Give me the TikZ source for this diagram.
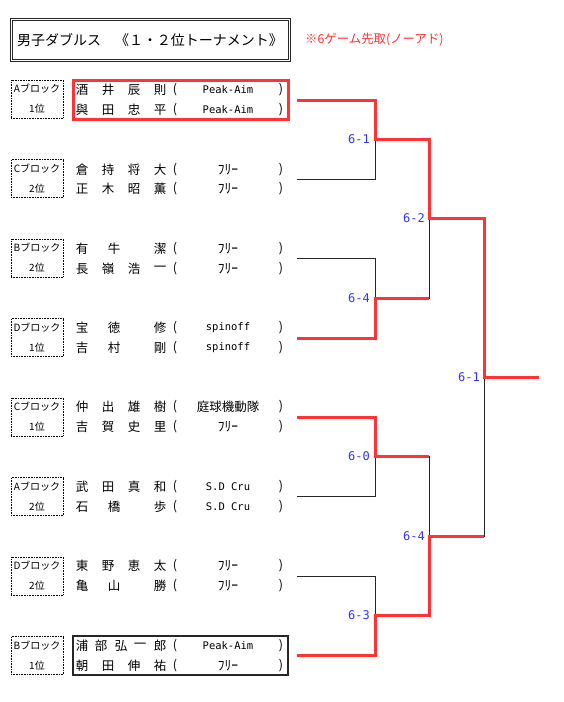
\documentclass[tikz,border=0pt]{standalone}
\usepackage{fontspec}
\setmainfont{Noto Sans CJK JP}
\newfontfamily\monof{DejaVu Sans Mono}
\usetikzlibrary{calc}
\definecolor{wred}{RGB}{255,51,51}
\definecolor{wblue}{RGB}{51,51,255}
\newcommand\player[4]{%
  \foreach \c/\x [count=\i] in {#3} {\node[txt] (n#1-\i) at (\x,#2) {\c};}
  \node[txt] (lp#1) at (175,#2) {(};
  \node[txt] (tm#1) at (228,#2) {#4};
  \node[txt] (rp#1) at (281,#2) {)};
}
\newcommand\pl{\monof\fontsize{10.5}{12}\selectfont}
\newcommand\fr{\fontsize{13.5}{14}\selectfont ﾌﾘｰ}
\begin{document}
\begin{tikzpicture}[x=1pt,y=-1pt,
  txt/.style={inner sep=0pt, font=\fontsize{12.5}{13}\selectfont},
  blk/.style={draw, densely dotted, line width=0.6pt, minimum width=52pt, minimum height=38pt, inner sep=0pt, align=center, font=\fontsize{10}{20}\selectfont},
  thin line/.style={draw=black!85, line width=0.8pt},
  win/.style={draw=wred, line width=3pt},
  score/.style={text=wblue, inner sep=0pt, anchor=east, font=\monof\fontsize{12}{13}\selectfont}]
\useasboundingbox (0,0) rectangle (564,702);
\fill[white] (0,0) rectangle (564,702);
% title
\node[draw=black!85, line width=0.7pt, minimum width=280pt, minimum height=43pt, inner sep=0pt, font=\fontsize{14}{16}\selectfont] (title) at (150,40) {男子ダブルス　《１・２位トーナメント》};
\draw[black!85, line width=0.7pt] ($(title.north west)+(2.2,2.2)$) rectangle ($(title.south east)+(-2.2,-2.2)$);
\node[inner sep=0pt, text=wred, anchor=west, font=\fontsize{12.4}{14}\selectfont] (note) at (305,40) {※6ゲーム先取(ノーアド)};
% block labels
\node[blk] (b1) at (37,99) {Aブロック\\1位};
\node[blk] (b2) at (37,178.5) {Cブロック\\2位};
\node[blk] (b3) at (37,258) {Bブロック\\2位};
\node[blk] (b4) at (37,337.5) {Dブロック\\1位};
\node[blk] (b5) at (37,417) {Cブロック\\1位};
\node[blk] (b6) at (37,496.5) {Aブロック\\2位};
\node[blk] (b7) at (37,576) {Dブロック\\2位};
\node[blk] (b8) at (37,655.5) {Bブロック\\1位};
% players
\player{1a}{90}{酒/82,井/108,辰/134,則/160}{\pl Peak-Aim}
\player{1b}{110}{與/82,田/108,忠/134,平/160}{\pl Peak-Aim}
\player{2a}{170}{倉/82,持/108,将/134,大/160}{\fr}
\player{2b}{189}{正/82,木/108,昭/134,薫/160}{\fr}
\player{3a}{249}{有/82,牛/114,潔/160}{\fr}
\player{3b}{269}{長/82,嶺/108,浩/134,一/160}{\fr}
\player{4a}{328}{宝/82,徳/114,修/160}{\pl spinoff}
\player{4b}{348}{吉/82,村/114,剛/160}{\pl spinoff}
\player{5a}{407}{仲/82,出/108,雄/134,樹/160}{庭球機動隊}
\player{5b}{427}{吉/82,賀/108,史/134,里/160}{\fr}
\player{6a}{487}{武/82,田/108,真/134,和/160}{\pl S.D Cru}
\player{6b}{507}{石/82,橋/114,歩/160}{\pl S.D Cru}
\player{7a}{566}{東/82,野/108,恵/134,太/160}{\fr}
\player{7b}{586}{亀/82,山/114,勝/160}{\fr}
\player{8a}{646}{浦/82,部/101,弘/121,一/140,郎/160}{\pl Peak-Aim}
\player{8b}{666}{朝/82,田/108,伸/134,祐/160}{\fr}
% highlight boxes
\node[draw=wred, line width=3pt, minimum width=215pt, minimum height=39pt, inner sep=0pt] (hb1) at (180.5,99.5) {};
\node[draw=black!85, line width=2pt, minimum width=215pt, minimum height=39pt, inner sep=0pt] (hb8) at (180.5,655.5) {};
% bracket coordinates
\foreach \k/\y in {1/100,2/179,3/258,4/338,5/417,6/496,7/576,8/655} {
  \coordinate (s\k) at (297,\y);
  \coordinate (c\k) at (375,\y);
}
\coordinate (j1) at (375,139); \coordinate (j2) at (375,298);
\coordinate (j3) at (375,456); \coordinate (j4) at (375,615);
\coordinate (d1) at (429,139); \coordinate (d2) at (429,298);
\coordinate (d3) at (429,456); \coordinate (d4) at (429,615);
\coordinate (k1) at (429,218); \coordinate (k2) at (429,536);
\coordinate (e1) at (484,218); \coordinate (e2) at (484,536);
\coordinate (f) at (484,377); \coordinate (fin) at (539,377);
% black bracket
\path[thin line] (s1) -- (c1) -- (c2) -- (s2);
\path[thin line] (s3) -- (c3) -- (c4) -- (s4);
\path[thin line] (s5) -- (c5) -- (c6) -- (s6);
\path[thin line] (s7) -- (c7) -- (c8) -- (s8);
\path[thin line] (j1) -- (d1) -- (d2) -- (j2);
\path[thin line] (j3) -- (d3) -- (d4) -- (j4);
\path[thin line] (k1) -- (e1) -- (e2) -- (k2);
% winners
\path[win] (s1) -- (c1) -- (j1) -- (d1) -- (k1) -- (e1) -- (f) -- (fin);
\path[win] (s4) -- (c4) -- (j2) -- (d2);
\path[win] (s5) -- (c5) -- (j3) -- (d3);
\path[win] (s8) -- (c8) -- (j4) -- (d4) -- (k2) -- (e2);
% scores
\node[score] (sc1) at (370,139) {6-1};
\node[score] (sc2) at (370,298) {6-4};
\node[score] (sc3) at (370,456) {6-0};
\node[score] (sc4) at (370,615) {6-3};
\node[score] (sc5) at (425,218) {6-2};
\node[score] (sc6) at (425,536) {6-4};
\node[score] (sc7) at (480,377) {6-1};
\end{tikzpicture}
\end{document}
